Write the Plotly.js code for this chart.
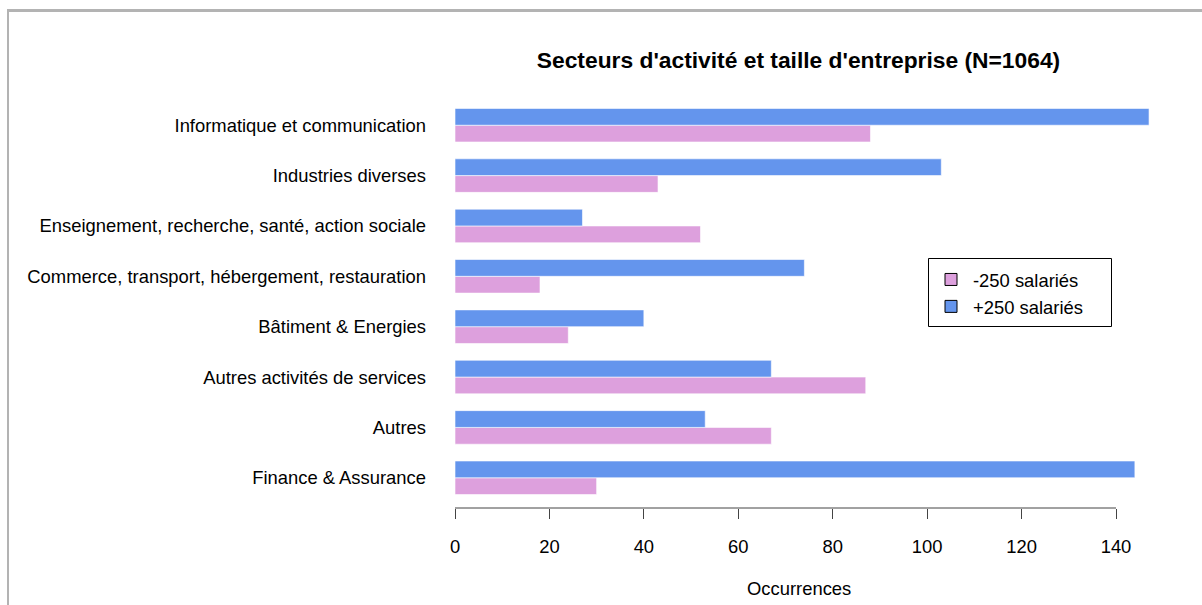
<!DOCTYPE html>
<html>
<head>
<meta charset="utf-8">
<script src="https://cdn.plot.ly/plotly-3.0.1.min.js"></script>
<style>
body{margin:0;padding:0;background:#fff;}
#wrap{position:relative;width:1202px;height:605px;overflow:hidden;}
#chart{position:absolute;left:0;top:0;width:1202px;height:605px;}
.bt{position:absolute;left:7px;top:9px;width:1195px;height:3px;background:#b3b3b3;}
.bl{position:absolute;left:7px;top:9px;width:2px;height:596px;background:#b3b3b3;}
</style>
</head>
<body>
<div id="wrap"><div id="chart"></div><div class="bt"></div><div class="bl"></div></div>
<script>
// categories listed bottom to top (Plotly order)
const categories = [
  "Finance & Assurance",
  "Autres",
  "Autres activités de services",
  "Bâtiment & Energies",
  "Commerce, transport, hébergement, restauration",
  "Enseignement, recherche, santé, action sociale",
  "Industries diverses",
  "Informatique et communication"
];
const small = [30, 67, 87, 24, 18, 52, 43, 88];    // -250 salariés
const large = [144, 53, 67, 40, 74, 27, 103, 147]; // +250 salariés
const seriesNames = ["-250 salariés", "+250 salariés"];
const xTicks = [0, 20, 40, 60, 80, 100, 120, 140];

const pink = "#DDA0DD", blue = "#6495ED";
const font = "Liberation Sans, Arial, sans-serif";
const FS = 18.4;

const data = [
  {type:"bar", orientation:"h", y:categories, x:small, name:seriesNames[0],
   marker:{color:pink, line:{color:"rgba(255,255,255,0.6)", width:1}}, showlegend:false},
  {type:"bar", orientation:"h", y:categories, x:large, name:seriesNames[1],
   marker:{color:blue, line:{color:"rgba(255,255,255,0.6)", width:1}}, showlegend:false},
  // legend-only entries on a hidden axis pair (so they do not take group slots)
  {type:"bar", orientation:"h", y:[null], x:[null], name:seriesNames[0], xaxis:"x2", yaxis:"y2",
   marker:{color:pink, line:{color:"#000", width:1}}, showlegend:true},
  {type:"bar", orientation:"h", y:[null], x:[null], name:seriesNames[1], xaxis:"x2", yaxis:"y2",
   marker:{color:blue, line:{color:"#000", width:1}}, showlegend:true}
];

const L = 427, R = 1202-1177, PW = 1177-L, T = 95, PH = 413;
const px = v => (v-L)/PW, py = v => (T+PH-v)/PH;
const layout = {
  width:1202, height:605,
  margin:{l:L, r:R, t:T, b:605-T-PH, pad:0},
  paper_bgcolor:"#fff", plot_bgcolor:"rgba(0,0,0,0)",
  font:{family:font, size:FS, color:"#000"},
  barmode:"group", bargap:1/3, bargroupgap:0,
  title:{text:"Secteurs d'activité et taille d'entreprise (N=1064)",
         font:{family:font, size:22.8, color:"#000", weight:"bold"},
         xref:"container", x:798.5/1202, xanchor:"center",
         yref:"container", y:1-60/605, yanchor:"middle"},
  xaxis:{range:[-28/4.7214, (1177-455)/4.7214], tickvals:xTicks, ticktext:xTicks.map(String),
         showgrid:false, zeroline:false, showline:false,
         ticks:"outside", ticklen:10, tickwidth:1, tickcolor:"#444", ticklabelstandoff:12,
         tickfont:{family:font, size:FS, color:"#000"}, fixedrange:true},
  yaxis:{type:"category", range:[-0.6, 7.6], showgrid:false, zeroline:false, showline:false,
         ticks:"", tickfont:{family:font, size:FS, color:"#000"}, fixedrange:true},
  xaxis2:{overlaying:"x", visible:false, range:[0,1]},
  yaxis2:{overlaying:"y", visible:false, range:[0,1]},
  shapes:[
    {type:"line", xref:"x", yref:"paper", x0:0, x1:140, y0:0, y1:0,
     line:{color:"#444", width:1}},
    {type:"rect", xref:"paper", yref:"paper", x0:px(928.5), x1:px(1111.5), y0:py(326.5), y1:py(258.5),
     fillcolor:"#fff", line:{color:"#000", width:1}, layer:"above"}
  ],
  annotations:[{text:"Occurrences", xref:"paper", yref:"paper",
                x:px(798.5), y:py(588), xanchor:"center", yanchor:"middle",
                showarrow:false, font:{family:font, size:FS, color:"#000"}}],
  legend:{x:px(929), y:py(261), xanchor:"left", yanchor:"top",
          bgcolor:"rgba(0,0,0,0)", borderwidth:0, itemwidth:34,
          font:{family:font, size:FS, color:"#000"}, traceorder:"normal"}
};
Plotly.newPlot("chart", data, layout, {displayModeBar:false, staticPlot:true});
</script>
</body>
</html>
